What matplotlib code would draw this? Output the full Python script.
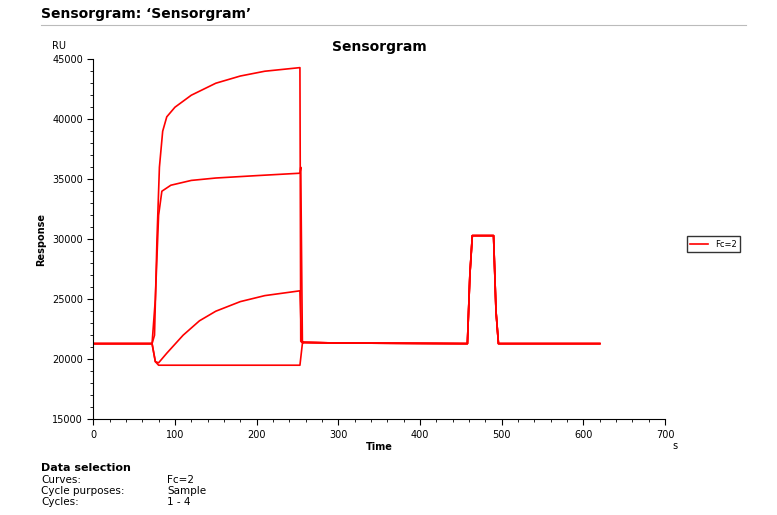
import matplotlib
matplotlib.use("Agg")
import matplotlib.pyplot as plt

t1 = [0, 72, 75, 78, 81, 85, 90, 100, 120, 150, 180, 210, 253, 254]
r1 = [21300, 21300, 22000, 30000, 36000, 39000, 40200, 41000, 42000, 43000, 43600, 44000, 44300, 21500]
t2 = [0, 72, 76, 80, 84, 95, 120, 150, 200, 253, 254, 256]
r2 = [21300, 21300, 25000, 32000, 34000, 34500, 34900, 35100, 35300, 35500, 36000, 21500]
t3 = [0, 72, 76, 80, 90, 110, 130, 150, 180, 210, 253, 255]
r3 = [21300, 21300, 19800, 19700, 20500, 22000, 23200, 24000, 24800, 25300, 25700, 21400]
t4 = [0, 72, 76, 80, 253, 256]
r4 = [21300, 21300, 19800, 19500, 19500, 21300]
t_tail = [258, 300, 458, 461, 464, 490, 493, 496, 620]
r_tail = [21400, 21350, 21300, 27000, 30300, 30300, 24000, 21300, 21300]

fig = plt.figure(figsize=(7.77, 5.15), dpi=100)
ax = fig.add_axes([0.12, 0.186, 0.736, 0.699])
for t, r in [(t1, r1), (t2, r2), (t3, r3), (t4, r4)]:
    ax.plot(t + t_tail, r + r_tail, color="#ff0000", lw=1.2)
ax.plot([], [], color="#ff0000", lw=1.2, label="Fc=2")
ax.set_xlim(0, 700)
ax.set_ylim(15000, 45000)
ax.set_xticks(range(0, 701, 100))
ax.set_yticks(range(15000, 45001, 5000))
ax.set_xticks(range(0, 701, 20), minor=True)
ax.set_yticks(range(15000, 45001, 1000), minor=True)
ax.tick_params(labelsize=7, direction="out", length=4)
ax.tick_params(which="minor", length=2)
for s in ["top", "right"]:
    ax.spines[s].set_visible(False)
ax.set_xlabel("Time", fontsize=7, fontweight="bold", labelpad=2)
ax.set_ylabel("Response", fontsize=7, fontweight="bold")
ax.set_title("Sensorgram", fontsize=10, fontweight="bold", pad=6)
fig.text(0.067, 0.905, "RU", fontsize=7)
fig.text(0.865, 0.128, "s", fontsize=7)
fig.legend(loc="center", bbox_to_anchor=(0.918, 0.526), fontsize=6, frameon=True,
           fancybox=False, edgecolor="black", handlelength=2.2)
fig.text(0.053, 0.965, "Sensorgram: \u2018Sensorgram\u2019", fontsize=10, fontweight="bold")
fig.add_artist(plt.Line2D([0.053, 0.96], [0.952, 0.952], color="#bbbbbb", lw=0.8))
fig.text(0.053, 0.085, "Data selection", fontsize=8, fontweight="bold")
rows = [("Curves:", "Fc=2"), ("Cycle purposes:", "Sample"), ("Cycles:", "1 - 4")]
for i, (a, b) in enumerate(rows):
    y = 0.063 - i * 0.022
    fig.text(0.053, y, a, fontsize=7.5)
    fig.text(0.215, y, b, fontsize=7.5)
fig.savefig("out.png", dpi=100, facecolor="white")
